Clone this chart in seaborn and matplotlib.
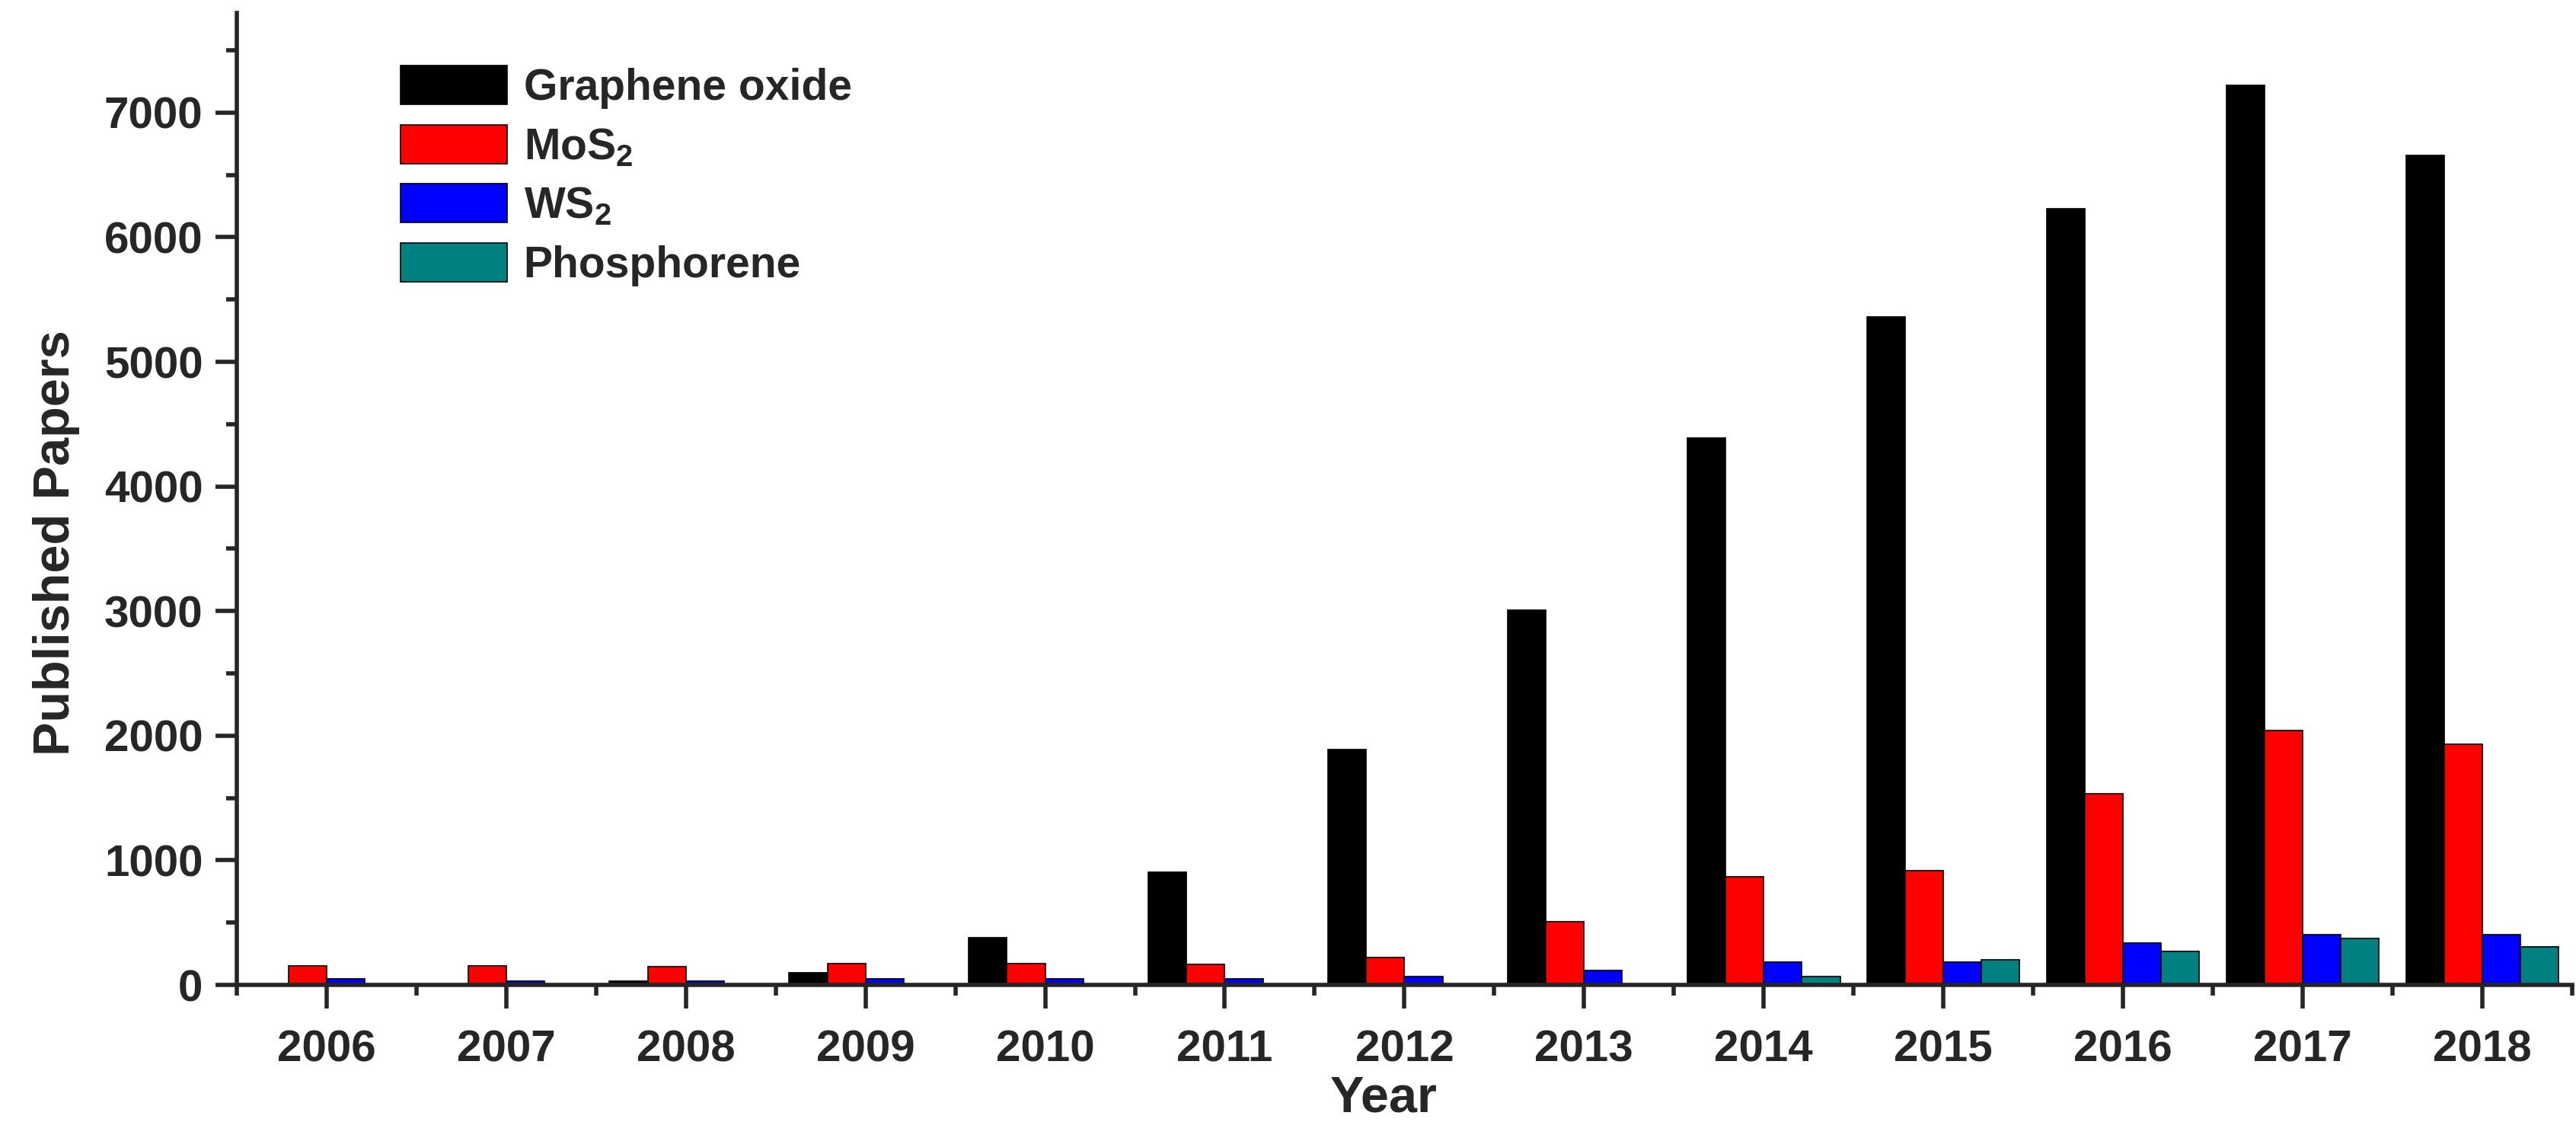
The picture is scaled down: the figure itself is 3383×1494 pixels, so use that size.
import pandas as pd
import seaborn as sns
import matplotlib.pyplot as plt
from matplotlib.ticker import MultipleLocator, AutoMinorLocator

years = [2006, 2007, 2008, 2009, 2010, 2011, 2012, 2013, 2014, 2015, 2016, 2017, 2018]
graphene_oxide = [0, 0, 30, 100, 378, 905, 1892, 3005, 4390, 5362, 6228, 7220, 6655]
mos2 = [152, 152, 150, 171, 171, 168, 218, 508, 868, 918, 1532, 2045, 1929]
ws2 = [52, 30, 30, 52, 52, 49, 65, 116, 184, 184, 339, 406, 406]
phosphorene = [0, 0, 0, 0, 0, 0, 0, 0, 65, 204, 271, 376, 306]

materials = ["Graphene oxide", "MoS$_2$", "WS$_2$", "Phosphorene"]
colors = ["#000000", "#ff0000", "#0000ff", "#008080"]

df = pd.DataFrame({
    "Year": years * 4,
    "Papers": graphene_oxide + mos2 + ws2 + phosphorene,
    "Material": [m for m in materials for _ in years],
})

sns.set_style("ticks")
plt.rcParams["font.family"] = ["Liberation Sans", "DejaVu Sans"]
plt.rcParams["font.weight"] = "bold"
plt.rcParams["mathtext.fontset"] = "custom"
plt.rcParams["mathtext.rm"] = "Liberation Sans:bold"
plt.rcParams["mathtext.it"] = "Liberation Sans:bold"
plt.rcParams["mathtext.bf"] = "Liberation Sans:bold"

fig, ax = plt.subplots(figsize=(33.83, 14.94), dpi=100)
fig.subplots_adjust(left=0.0919, right=0.9985, bottom=0.1345, top=0.9886)

sns.barplot(data=df, x="Year", y="Papers", hue="Material", palette=colors,
            saturation=1, width=0.85, edgecolor="black", linewidth=1.2, ax=ax)

ax.set_xlim(-0.5, 12.5)
ax.set_ylim(0, 7800)
ax.yaxis.set_major_locator(MultipleLocator(1000))
ax.yaxis.set_minor_locator(MultipleLocator(500))
ax.xaxis.set_minor_locator(AutoMinorLocator(2))

sns.despine(ax=ax)
for side in ["left", "bottom"]:
    ax.spines[side].set_linewidth(4)
ax.tick_params(which="major", length=20, width=4, labelsize=42, pad=12)
ax.tick_params(which="minor", length=10, width=4)
ax.tick_params(axis="x", which="major", length=22, pad=20)
for lab in ax.get_xticklabels() + ax.get_yticklabels():
    lab.set_fontweight("bold")

ax.set_xlabel("Year", fontsize=48, fontweight="bold")
ax.set_ylabel("Published Papers", fontsize=48, fontweight="bold")
ax.xaxis.set_label_coords(0.491, -0.093)
ax.yaxis.set_label_coords(-0.067, 0.455)

old = ax.get_legend()
handles = old.legend_handles
labels = [t.get_text() for t in old.get_texts()]
old.remove()
ax.legend(handles, labels, loc="upper left", bbox_to_anchor=(0.061, 0.968),
          frameon=False, borderpad=0, handlelength=2.45,
          handleheight=1.0, handletextpad=0.38, labelspacing=0.36,
          prop={"weight": "bold", "size": 41})

fig.savefig("out.png", dpi=100)
